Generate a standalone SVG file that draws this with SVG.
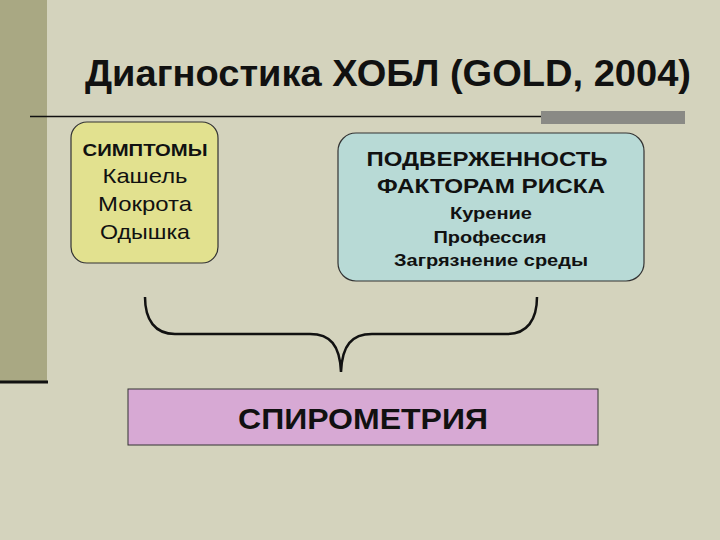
<svg xmlns="http://www.w3.org/2000/svg" width="720" height="540" viewBox="0 0 720 540">
<style>
text{font-family:"Liberation Sans",Arial,sans-serif;fill:#111;text-anchor:middle}
.b{font-weight:bold}
.box{stroke:#333;stroke-width:1.2}
</style>
<rect width="720" height="540" fill="#d4d3bd"/>
<rect x="0" y="0" width="47" height="382" fill="#a9a883"/>
<line x1="0" y1="382" x2="48" y2="382" stroke="#111" stroke-width="3"/>
<g id="title">
<text x="388" y="86" class="b" font-size="37" textLength="606" lengthAdjust="spacingAndGlyphs" fill="#1a0f1a">Диагностика ХОБЛ (GOLD, 2004)</text>
<line x1="30" y1="116.5" x2="542" y2="116.5" stroke="#111" stroke-width="1.5"/>
<rect x="541" y="111" width="144" height="13" fill="#8a8a85"/>
</g>
<g id="symptoms">
<rect class="box" x="71" y="122" width="147" height="141" rx="16" fill="#e2e18f"/>
<text x="145" y="156" class="b" font-size="17" textLength="125" lengthAdjust="spacingAndGlyphs">СИМПТОМЫ</text>
<text x="145" y="183" font-size="21" textLength="85" lengthAdjust="spacingAndGlyphs">Кашель</text>
<text x="145" y="211" font-size="21" textLength="94" lengthAdjust="spacingAndGlyphs">Мокрота</text>
<text x="145" y="239" font-size="21" textLength="90" lengthAdjust="spacingAndGlyphs">Одышка</text>
</g>
<g id="risk">
<rect class="box" x="338" y="133" width="306" height="148" rx="18" fill="#b8dad6"/>
<text x="487" y="166" class="b" font-size="21" textLength="241" lengthAdjust="spacingAndGlyphs">ПОДВЕРЖЕННОСТЬ</text>
<text x="491" y="193" class="b" font-size="21" textLength="228" lengthAdjust="spacingAndGlyphs">ФАКТОРАМ РИСКА</text>
<text x="491" y="219" class="b" font-size="17" textLength="82" lengthAdjust="spacingAndGlyphs">Курение</text>
<text x="490" y="243" class="b" font-size="17" textLength="113" lengthAdjust="spacingAndGlyphs">Профессия</text>
<text x="491" y="266" class="b" font-size="17" textLength="194" lengthAdjust="spacingAndGlyphs">Загрязнение среды</text>
</g>
<g id="connectors">
<path d="M145,297 C145,320 155,334 175,334 L310,334 C330,334 340,345 341,372 M537,297 C537,320 527,334 507,334 L372,334 C352,334 342,345 341,372" fill="none" stroke="#111" stroke-width="2.5"/>
</g>
<g id="spirometry">
<rect x="128" y="389" width="470" height="56" fill="#d7a9d4" stroke="#333" stroke-width="1"/>
<text x="363" y="429" class="b" font-size="30" textLength="250" lengthAdjust="spacingAndGlyphs">СПИРОМЕТРИЯ</text>
</g>
</svg>
